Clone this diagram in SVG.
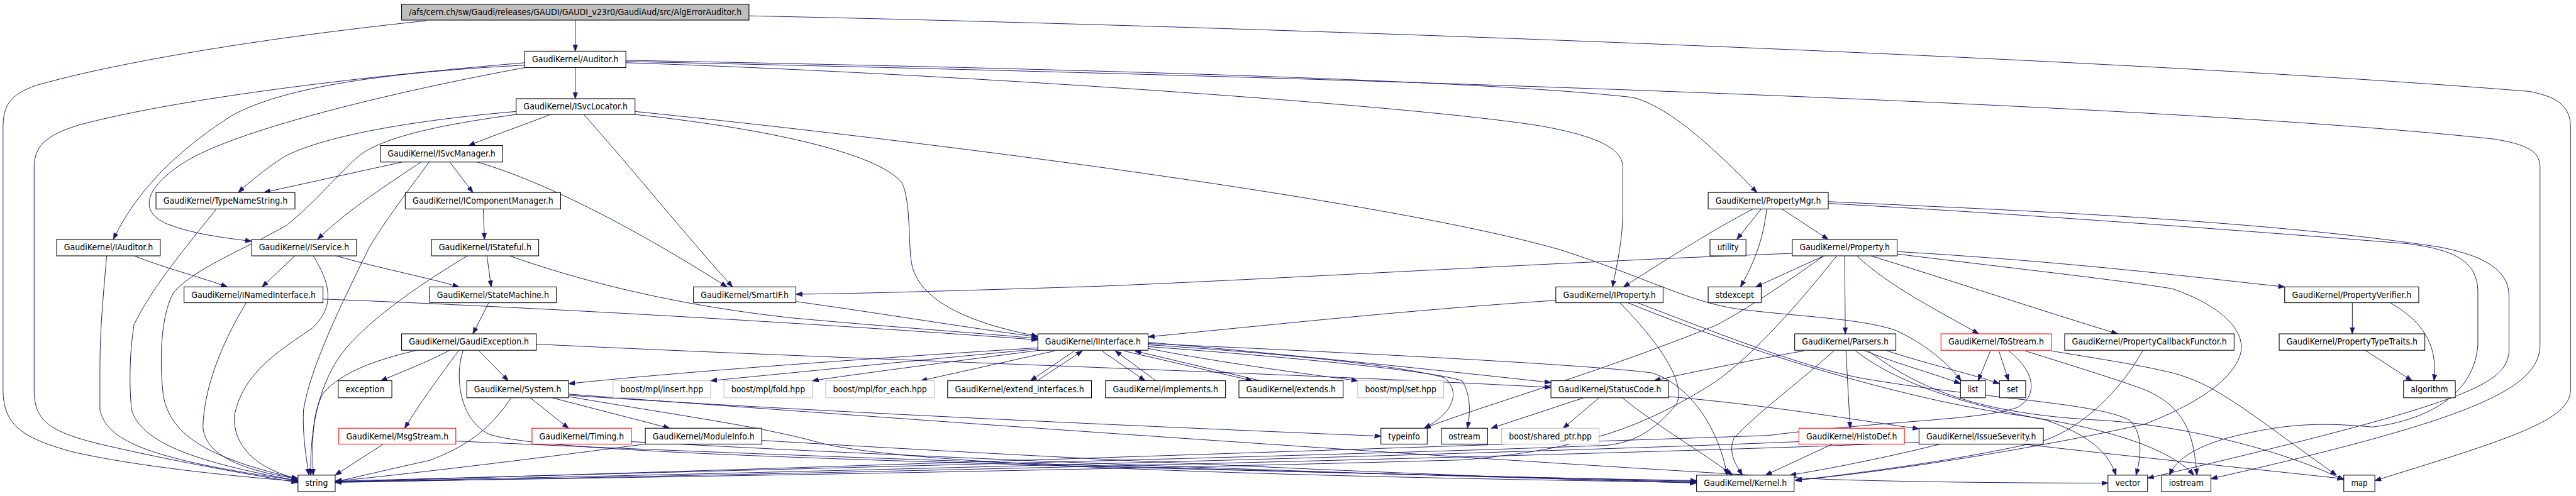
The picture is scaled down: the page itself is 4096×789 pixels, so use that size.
<svg xmlns="http://www.w3.org/2000/svg" width="4096" height="789" viewBox="0 0 4096 789">
<defs>
<marker id="a" markerUnits="userSpaceOnUse" markerWidth="11" markerHeight="9" refX="10.5" refY="4" orient="auto"><path d="M0,0 L11,4 L0,8 z" fill="#191970" stroke="#191970" stroke-width="0.5"/></marker>
<style>
.n rect{fill:#fff;stroke:#000;stroke-width:1.1}
.g rect{stroke:#bfbfbf}
.r rect{stroke:#ff0000}
.root rect{fill:#bfbfbf}
text{font-family:"DejaVu Sans Condensed","DejaVu Sans","Liberation Sans",sans-serif;font-size:14px;text-anchor:middle;fill:#000}
#edges path{fill:none;stroke:#191970;stroke-width:1;marker-end:url(#a)}
</style>
</defs>
<rect width="4096" height="789" fill="#fff"/>
<g transform="scale(0.969)">
<g id="edges">
<path d="M944,33 V84"/>
<path d="M700,34 C450,60 200,100 60,140 C15,155 5,175 5,210 L5,640 C5,700 40,720 120,742 C220,765 380,782 489,790"/>
<path d="M1229,26 C2000,42 3400,90 4150,150 C4205,160 4218,180 4218,210 L4218,640 C4218,690 4120,720 3897,789"/>
<path d="M944,111 V162"/>
<path d="M861,103 C600,125 300,160 130,205 C75,222 56,240 56,275 L56,640 C56,690 80,708 160,728 C260,752 400,778 489,792"/>
<path d="M861,107 C650,118 470,140 380,190 C310,235 230,300 186,393"/>
<path d="M861,111 C650,150 400,210 310,262 C245,300 220,345 275,368 C320,385 365,390 413,396"/>
<path d="M1027,99 C1600,110 2400,128 2680,160 C2735,175 2800,230 2883,316"/>
<path d="M1027,103 C1500,118 2300,170 2530,207 C2610,222 2663,240 2663,275 L2663,350 C2662,400 2652,440 2646,471"/>
<path d="M1027,101 C2000,122 3500,165 4090,228 C4150,237 4168,250 4168,275 L4168,566 C4168,640 4050,690 3628,786"/>
<path d="M903,188 C860,205 810,222 769,239"/>
<path d="M847,183 C650,200 520,228 465,258 C435,278 410,298 391,316"/>
<path d="M847,188 C720,205 630,225 590,255 C550,290 520,330 470,370 C400,410 320,440 285,480 C262,520 262,600 268,650 C280,710 330,750 489,786"/>
<path d="M958,188 C1040,280 1120,380 1202,471"/>
<path d="M1042,183 C1600,240 2300,335 2560,410 C2700,455 2770,495 2850,507 C2950,520 3050,522 3110,542 C3160,565 3195,595 3218,625"/>
<path d="M1042,188 C1250,210 1440,250 1480,300 C1495,330 1490,400 1496,433 C1505,480 1560,525 1703,552"/>
<path d="M660,266 L433,316"/>
<path d="M691,266 C640,300 570,345 521,393"/>
<path d="M704,266 C680,300 640,350 606,406 C560,500 510,600 498,673 C496,710 502,750 507,780"/>
<path d="M738,266 L776,316"/>
<path d="M783,266 C900,300 1050,380 1193,471"/>
<path d="M793,343 L795,393"/>
<path d="M355,343 C310,400 250,470 220,533 C212,580 212,640 216,673 C230,720 300,756 489,789"/>
<path d="M220,420 C270,440 330,455 373,471"/>
<path d="M175,420 C170,480 164,540 164,600 L164,673 C175,720 230,753 489,789"/>
<path d="M484,420 L430,471"/>
<path d="M514,420 C545,470 548,505 512,539 C460,575 400,610 385,680 C380,730 420,770 489,786"/>
<path d="M552,420 C620,440 700,455 753,471"/>
<path d="M799,420 L806,471"/>
<path d="M767,420 C700,460 610,520 565,575 C525,625 508,700 510,780"/>
<path d="M836,420 C950,460 1100,500 1300,522 C1500,540 1650,550 1703,556"/>
<path d="M530,491 C900,505 1400,535 1703,558"/>
<path d="M404,497 C360,570 335,640 333,700 C335,740 380,770 489,786"/>
<path d="M802,497 L776,548"/>
<path d="M1306,495 C1450,515 1600,540 1703,553"/>
<path d="M2941,416 C2600,428 2100,458 1800,470 C1550,478 1400,482 1306,483"/>
<path d="M738,575 C700,595 660,610 625,625"/>
<path d="M753,575 C720,620 690,660 664,703"/>
<path d="M785,575 L834,625"/>
<path d="M684,575 C620,590 560,610 530,646 C512,680 512,720 514,780"/>
<path d="M880,565 C1400,590 2100,612 2545,636"/>
<path d="M760,575 C745,620 755,690 803,713 C900,745 1500,760 2784,790"/>
<path d="M839,653 C800,710 760,735 704,756 C640,770 590,782 550,791"/>
<path d="M870,653 L933,703"/>
<path d="M906,653 L1099,703"/>
<path d="M933,649 C1400,680 2000,705 2266,716"/>
<path d="M933,651 C1100,680 1250,700 1342,726 C1500,770 2300,785 2784,792"/>
<path d="M933,647 C1500,690 2500,760 3000,787 C3200,793 3400,793 3459,793"/>
<path d="M629,729 L550,780"/>
<path d="M748,724 C1200,745 2000,775 2784,789"/>
<path d="M1036,725 C1500,750 2200,780 2784,791"/>
<path d="M1059,729 C900,750 700,775 550,790"/>
<path d="M1250,723 C1700,750 2300,780 2784,793"/>
<path d="M1703,571 C1400,590 1100,612 933,630"/>
<path d="M1703,573 C1500,592 1300,612 1166,625"/>
<path d="M1706,575 C1550,595 1400,615 1333,625"/>
<path d="M1731,576 L1511,625"/>
<path d="M1763,576 L1691,625"/>
<path d="M1702,625 L1776,576"/>
<path d="M1808,576 L1879,625"/>
<path d="M1897,625 L1830,576"/>
<path d="M1844,576 L2055,625"/>
<path d="M2068,625 L1862,576"/>
<path d="M1884,572 C2000,595 2150,615 2228,625"/>
<path d="M1884,566 C2100,580 2300,600 2370,620 C2395,640 2390,675 2337,703"/>
<path d="M1884,569 C2100,585 2350,608 2399,625 C2415,650 2412,680 2408,703"/>
<path d="M1884,562 C2100,580 2400,612 2545,628"/>
<path d="M1884,564 C2200,578 2600,598 2710,612 C2770,630 2820,700 2834,780"/>
<path d="M2599,653 L2447,703"/>
<path d="M2624,653 L2565,703"/>
<path d="M2738,651 C2900,665 3050,690 3149,704"/>
<path d="M2662,653 C2720,700 2790,740 2843,780"/>
<path d="M2553,493 C2300,510 2100,532 1884,553"/>
<path d="M2658,497 C2720,560 2770,630 2750,665 C2720,700 2690,725 2637,731 C2300,745 1200,772 550,790"/>
<path d="M2687,497 C2800,540 2950,600 3050,620 C3250,655 3440,660 3495,690 C3515,710 3515,745 3505,780"/>
<path d="M2671,497 C2850,570 3100,650 3300,680 C3450,700 3560,735 3600,780"/>
<path d="M2993,420 L2881,471"/>
<path d="M3027,420 L3028,548"/>
<path d="M3047,420 C3100,470 3180,510 3247,548"/>
<path d="M3070,420 C3200,460 3350,510 3475,548"/>
<path d="M3113,413 C3400,430 3600,455 3749,471"/>
<path d="M2993,420 C2950,450 2880,500 2816,534 C2600,620 2450,660 2337,703"/>
<path d="M3113,417 C3300,440 3480,460 3565,474 C3640,500 3685,540 3677,579 C3665,625 3600,665 3520,696 C3300,745 3050,780 2946,788"/>
<path d="M3014,420 C2950,500 2880,580 2816,626 C2700,700 2600,738 2400,755 C1800,772 1000,785 550,791"/>
<path d="M2890,343 L2850,393"/>
<path d="M2877,343 C2840,362 2790,390 2664,471"/>
<path d="M2899,343 C2895,380 2885,420 2856,471"/>
<path d="M2924,343 L3000,393"/>
<path d="M3000,331 C3300,345 3700,360 4000,405 C4080,420 4117,445 4117,486 L4117,579 C4110,630 4060,660 3524,785"/>
<path d="M3000,334 C3300,350 3700,380 3950,400 C4030,410 4066,430 4066,480 L4066,566 C4060,650 3980,690 3893,701 C3800,692 3740,697 3655,719 C3600,735 3570,755 3560,780"/>
<path d="M3029,575 L3036,703"/>
<path d="M3058,575 C3120,600 3180,615 3217,630"/>
<path d="M3094,575 C3170,600 3240,615 3281,630"/>
<path d="M2960,576 C2880,590 2780,610 2714,625"/>
<path d="M3009,576 C2950,630 2880,680 2845,720 C2835,745 2850,765 2859,780"/>
<path d="M3045,576 C3100,620 3200,660 3355,689 C3420,710 3460,740 3472,780"/>
<path d="M3066,576 C3150,640 3250,680 3450,690 C3600,700 3760,745 3846,788"/>
<path d="M3266,576 L3246,625"/>
<path d="M3280,576 L3296,625"/>
<path d="M3323,576 C3400,600 3480,625 3520,640 C3590,670 3600,720 3605,780"/>
<path d="M3366,576 C3450,590 3550,605 3587,619 C3650,640 3720,700 3834,780"/>
<path d="M3296,576 C3340,610 3345,650 3310,669 C3250,690 3100,690 2900,715 C2000,745 1200,772 550,791"/>
<path d="M3007,729 L2897,780"/>
<path d="M2952,725 C2600,740 1500,772 550,791"/>
<path d="M3184,729 C3100,750 3000,770 2937,780"/>
<path d="M3319,729 C3500,750 3700,770 3846,786"/>
<path d="M3149,726 C2800,742 1500,775 550,792"/>
<path d="M3860,497 L3860,548"/>
<path d="M3922,497 C3980,530 4000,570 3994,625"/>
<path d="M3881,575 L3958,625"/>
<path d="M3516,576 C3480,640 3420,700 3355,723 C3200,760 3000,782 2946,789"/>
</g>
<g id="n_root" class="n root"><rect x="659" y="7" width="570" height="26"/><text x="944" y="25" textLength="546" lengthAdjust="spacingAndGlyphs">/afs/cern.ch/sw/Gaudi/releases/GAUDI/GAUDI_v23r0/GaudiAud/src/AlgErrorAuditor.h</text></g>
<g id="n_auditor" class="n"><rect x="861" y="84" width="166" height="27"/><text x="944" y="102" textLength="142" lengthAdjust="spacingAndGlyphs">GaudiKernel/Auditor.h</text></g>
<g id="n_isvclocator" class="n"><rect x="847" y="162" width="195" height="26"/><text x="944.5" y="180" textLength="171" lengthAdjust="spacingAndGlyphs">GaudiKernel/ISvcLocator.h</text></g>
<g id="n_isvcmanager" class="n"><rect x="624" y="239" width="201" height="27"/><text x="724.5" y="257" textLength="177" lengthAdjust="spacingAndGlyphs">GaudiKernel/ISvcManager.h</text></g>
<g id="n_typenamestring" class="n"><rect x="256" y="316" width="228" height="27"/><text x="370" y="334" textLength="204" lengthAdjust="spacingAndGlyphs">GaudiKernel/TypeNameString.h</text></g>
<g id="n_icomponentmanager" class="n"><rect x="665" y="316" width="255" height="27"/><text x="792.5" y="334" textLength="231" lengthAdjust="spacingAndGlyphs">GaudiKernel/IComponentManager.h</text></g>
<g id="n_propertymgr" class="n"><rect x="2803" y="316" width="197" height="27"/><text x="2901.5" y="334" textLength="173" lengthAdjust="spacingAndGlyphs">GaudiKernel/PropertyMgr.h</text></g>
<g id="n_iauditor" class="n"><rect x="93" y="393" width="170" height="27"/><text x="178" y="411" textLength="146" lengthAdjust="spacingAndGlyphs">GaudiKernel/IAuditor.h</text></g>
<g id="n_iservice" class="n"><rect x="413" y="393" width="172" height="27"/><text x="499" y="411" textLength="148" lengthAdjust="spacingAndGlyphs">GaudiKernel/IService.h</text></g>
<g id="n_istateful" class="n"><rect x="708" y="393" width="176" height="27"/><text x="796" y="411" textLength="152" lengthAdjust="spacingAndGlyphs">GaudiKernel/IStateful.h</text></g>
<g id="n_utility" class="n"><rect x="2806" y="393" width="59" height="27"/><text x="2835.5" y="411" textLength="35" lengthAdjust="spacingAndGlyphs">utility</text></g>
<g id="n_property" class="n"><rect x="2941" y="393" width="172" height="27"/><text x="3027" y="411" textLength="148" lengthAdjust="spacingAndGlyphs">GaudiKernel/Property.h</text></g>
<g id="n_inamedinterface" class="n"><rect x="302" y="471" width="228" height="26"/><text x="416" y="489" textLength="204" lengthAdjust="spacingAndGlyphs">GaudiKernel/INamedInterface.h</text></g>
<g id="n_statemachine" class="n"><rect x="705" y="471" width="208" height="26"/><text x="809" y="489" textLength="184" lengthAdjust="spacingAndGlyphs">GaudiKernel/StateMachine.h</text></g>
<g id="n_smartif" class="n"><rect x="1138" y="471" width="168" height="26"/><text x="1222" y="489" textLength="144" lengthAdjust="spacingAndGlyphs">GaudiKernel/SmartIF.h</text></g>
<g id="n_iproperty" class="n"><rect x="2553" y="471" width="176" height="26"/><text x="2641" y="489" textLength="152" lengthAdjust="spacingAndGlyphs">GaudiKernel/IProperty.h</text></g>
<g id="n_stdexcept" class="n"><rect x="2803" y="471" width="87" height="26"/><text x="2846.5" y="489" textLength="63" lengthAdjust="spacingAndGlyphs">stdexcept</text></g>
<g id="n_propertyverifier" class="n"><rect x="3749" y="471" width="220" height="26"/><text x="3859" y="489" textLength="196" lengthAdjust="spacingAndGlyphs">GaudiKernel/PropertyVerifier.h</text></g>
<g id="n_gaudiexception" class="n"><rect x="659" y="548" width="221" height="27"/><text x="769.5" y="566" textLength="197" lengthAdjust="spacingAndGlyphs">GaudiKernel/GaudiException.h</text></g>
<g id="n_iinterface" class="n"><rect x="1703" y="548" width="181" height="27"/><text x="1793.5" y="566" textLength="157" lengthAdjust="spacingAndGlyphs">GaudiKernel/IInterface.h</text></g>
<g id="n_parsers" class="n"><rect x="2945" y="548" width="166" height="27"/><text x="3028" y="566" textLength="142" lengthAdjust="spacingAndGlyphs">GaudiKernel/Parsers.h</text></g>
<g id="n_tostream" class="n r"><rect x="3185" y="548" width="181" height="27"/><text x="3275.5" y="566" textLength="157" lengthAdjust="spacingAndGlyphs">GaudiKernel/ToStream.h</text></g>
<g id="n_propertycallbackfunctor" class="n"><rect x="3388" y="548" width="278" height="27"/><text x="3527" y="566" textLength="254" lengthAdjust="spacingAndGlyphs">GaudiKernel/PropertyCallbackFunctor.h</text></g>
<g id="n_propertytypetraits" class="n"><rect x="3740" y="548" width="239" height="27"/><text x="3859.5" y="566" textLength="215" lengthAdjust="spacingAndGlyphs">GaudiKernel/PropertyTypeTraits.h</text></g>
<g id="n_exception" class="n"><rect x="555" y="625" width="88" height="28"/><text x="599" y="644" textLength="64" lengthAdjust="spacingAndGlyphs">exception</text></g>
<g id="n_system" class="n"><rect x="766" y="625" width="167" height="28"/><text x="849.5" y="644" textLength="143" lengthAdjust="spacingAndGlyphs">GaudiKernel/System.h</text></g>
<g id="n_insert" class="n g"><rect x="1006" y="625" width="160" height="28"/><text x="1086" y="644" textLength="136" lengthAdjust="spacingAndGlyphs">boost/mpl/insert.hpp</text></g>
<g id="n_fold" class="n g"><rect x="1188" y="625" width="145" height="28"/><text x="1260.5" y="644" textLength="121" lengthAdjust="spacingAndGlyphs">boost/mpl/fold.hpp</text></g>
<g id="n_foreach" class="n g"><rect x="1355" y="625" width="178" height="28"/><text x="1444" y="644" textLength="154" lengthAdjust="spacingAndGlyphs">boost/mpl/for_each.hpp</text></g>
<g id="n_extendinterfaces" class="n"><rect x="1555" y="625" width="236" height="28"/><text x="1673" y="644" textLength="212" lengthAdjust="spacingAndGlyphs">GaudiKernel/extend_interfaces.h</text></g>
<g id="n_implements" class="n"><rect x="1814" y="625" width="197" height="28"/><text x="1912.5" y="644" textLength="173" lengthAdjust="spacingAndGlyphs">GaudiKernel/implements.h</text></g>
<g id="n_extends" class="n"><rect x="2033" y="625" width="171" height="28"/><text x="2118.5" y="644" textLength="147" lengthAdjust="spacingAndGlyphs">GaudiKernel/extends.h</text></g>
<g id="n_mplset" class="n g"><rect x="2228" y="625" width="141" height="28"/><text x="2298.5" y="644" textLength="117" lengthAdjust="spacingAndGlyphs">boost/mpl/set.hpp</text></g>
<g id="n_statuscode" class="n"><rect x="2545" y="625" width="193" height="28"/><text x="2641.5" y="644" textLength="169" lengthAdjust="spacingAndGlyphs">GaudiKernel/StatusCode.h</text></g>
<g id="n_list" class="n"><rect x="3217" y="625" width="41" height="28"/><text x="3237.5" y="644" textLength="17" lengthAdjust="spacingAndGlyphs">list</text></g>
<g id="n_set" class="n"><rect x="3281" y="625" width="43" height="28"/><text x="3302.5" y="644" textLength="19" lengthAdjust="spacingAndGlyphs">set</text></g>
<g id="n_algorithm" class="n"><rect x="3944" y="625" width="85" height="28"/><text x="3986.5" y="644" textLength="61" lengthAdjust="spacingAndGlyphs">algorithm</text></g>
<g id="n_msgstream" class="n r"><rect x="556" y="703" width="192" height="26"/><text x="652" y="721" textLength="168" lengthAdjust="spacingAndGlyphs">GaudiKernel/MsgStream.h</text></g>
<g id="n_timing" class="n r"><rect x="873" y="703" width="163" height="26"/><text x="954.5" y="721" textLength="139" lengthAdjust="spacingAndGlyphs">GaudiKernel/Timing.h</text></g>
<g id="n_moduleinfo" class="n"><rect x="1059" y="703" width="191" height="26"/><text x="1154.5" y="721" textLength="167" lengthAdjust="spacingAndGlyphs">GaudiKernel/ModuleInfo.h</text></g>
<g id="n_typeinfo" class="n"><rect x="2266" y="703" width="76" height="26"/><text x="2304" y="721" textLength="52" lengthAdjust="spacingAndGlyphs">typeinfo</text></g>
<g id="n_ostream" class="n"><rect x="2365" y="703" width="76" height="26"/><text x="2403" y="721" textLength="52" lengthAdjust="spacingAndGlyphs">ostream</text></g>
<g id="n_sharedptr" class="n g"><rect x="2464" y="703" width="160" height="26"/><text x="2544" y="721" textLength="136" lengthAdjust="spacingAndGlyphs">boost/shared_ptr.hpp</text></g>
<g id="n_histodef" class="n r"><rect x="2952" y="703" width="173" height="26"/><text x="3038.5" y="721" textLength="149" lengthAdjust="spacingAndGlyphs">GaudiKernel/HistoDef.h</text></g>
<g id="n_issueseverity" class="n"><rect x="3149" y="703" width="204" height="26"/><text x="3251" y="721" textLength="180" lengthAdjust="spacingAndGlyphs">GaudiKernel/IssueSeverity.h</text></g>
<g id="n_string" class="n"><rect x="489" y="780" width="61" height="27"/><text x="519.5" y="798" textLength="37" lengthAdjust="spacingAndGlyphs">string</text></g>
<g id="n_kernel" class="n"><rect x="2784" y="780" width="160" height="27"/><text x="2864" y="798" textLength="136" lengthAdjust="spacingAndGlyphs">GaudiKernel/Kernel.h</text></g>
<g id="n_vector" class="n"><rect x="3459" y="780" width="65" height="27"/><text x="3491.5" y="798" textLength="41" lengthAdjust="spacingAndGlyphs">vector</text></g>
<g id="n_iostream" class="n"><rect x="3547" y="780" width="81" height="27"/><text x="3587.5" y="798" textLength="57" lengthAdjust="spacingAndGlyphs">iostream</text></g>
<g id="n_map" class="n"><rect x="3846" y="780" width="51" height="27"/><text x="3871.5" y="798" textLength="27" lengthAdjust="spacingAndGlyphs">map</text></g>
</g>
</svg>
